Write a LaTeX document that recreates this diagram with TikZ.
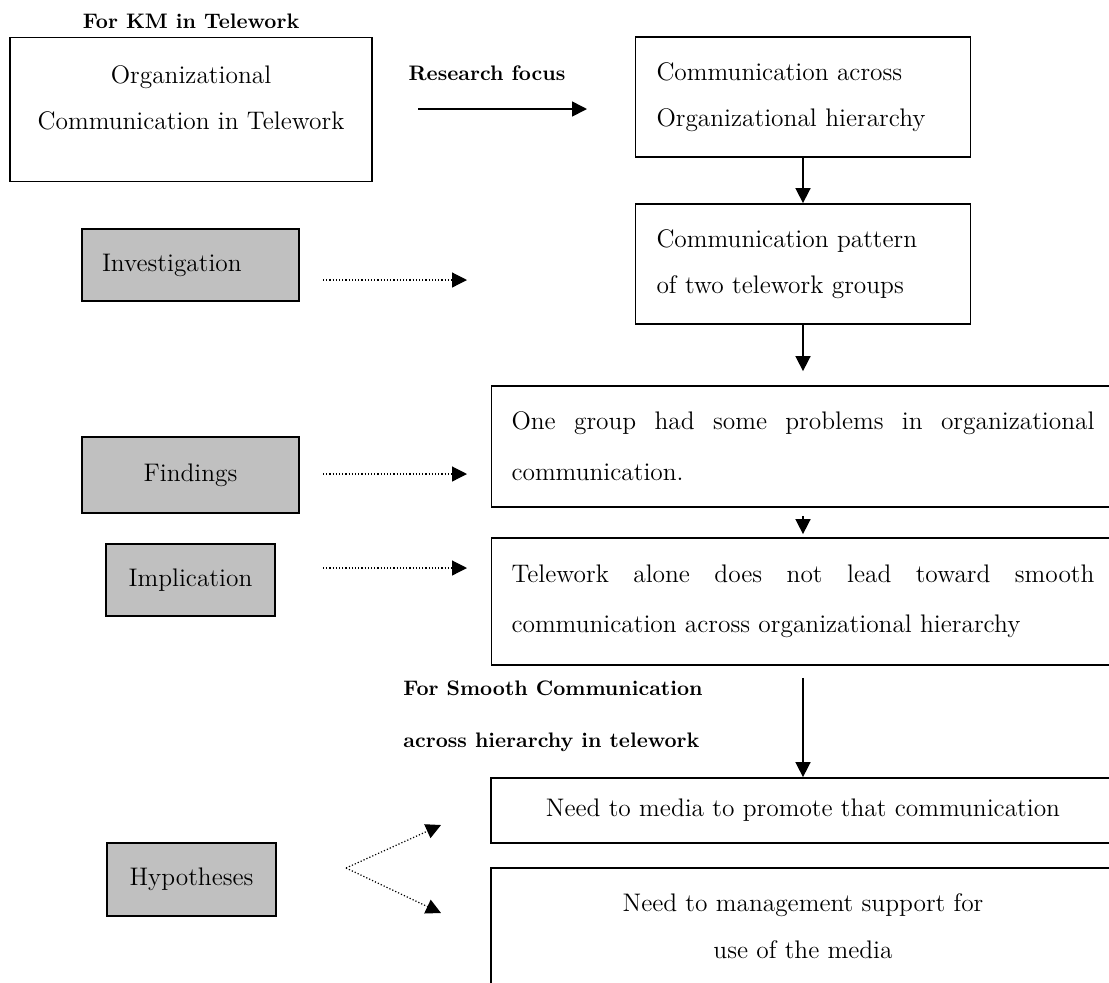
\documentclass[tikz,border=0pt]{standalone}
\usepackage{tikz}
\usetikzlibrary{arrows.meta, positioning}
\definecolor{boxgray}{RGB}{192,192,192}
\tikzset{
  wbox/.style={rectangle, draw, line width=0.9pt, fill=white, inner sep=0pt,
    font=\fontsize{12.7}{23}\selectfont},
  gbox/.style={rectangle, draw, line width=1pt, fill=boxgray, inner sep=0pt,
    font=\fontsize{12.7}{23}\selectfont},
  plain/.style={inner sep=0pt, align=center, font=\fontsize{12.7}{23}\selectfont},
  lbl/.style={inner sep=0pt, align=left, font=\fontsize{10.5}{26}\selectfont\bfseries},
  arrow/.style={-{Triangle[length=7.5pt, width=7.5pt]}, line width=0.8pt},
  dotarrow/.style={-{Triangle[length=7.5pt, width=7.5pt]}, line width=0.6pt,
    densely dotted},
}

\begin{document}
\begin{tikzpicture}[x=0.5pt, y=-0.5pt]
  \useasboundingbox (0,0) rectangle (1109,982);
  \clip (0,0) rectangle (1109,982);

  % top row
  \node[wbox, minimum width=181pt, minimum height=72pt] (org) at (191,109.5) {};
  \node[plain] (orgtxt) at (191,98) {Organizational\\Communication in Telework};
  \node[lbl, above=4pt of org] (km) {For KM in Telework};
  \node[lbl] (focus) at (487,73) {Research focus};

  \node[wbox, text width=146.5pt, align=left, minimum width=167.5pt,
    minimum height=60pt] (comm) at (803,97)
    {Communication across\\Organizational hierarchy};
  \node[wbox, text width=146.5pt, align=left, minimum width=167.5pt,
    minimum height=60pt] (patt) at (803,264)
    {Communication pattern\\of two telework groups};

  % wide boxes
  \node[wbox, text width=291.5pt, inner xsep=10pt, align=justify,
    minimum height=60.5pt, font=\fontsize{12.7}{25.5}\selectfont]
    (find) at (803,446.5)
    {One group had some problems in organizational\linebreak communication.};
  \node[wbox, text width=291.5pt, inner xsep=10pt, align=justify,
    minimum height=63.5pt, font=\fontsize{12.7}{25}\selectfont]
    (tele) at (803,601.5)
    {Telework alone does not lead toward smooth\linebreak communication across organizational hierarchy};
  \node[lbl, anchor=west] (smooth) at (403,716)
    {For Smooth Communication\\across hierarchy in telework};
  \node[wbox, minimum width=312pt, minimum height=32.5pt]
    (media) at (803,810.5) {Need to media to promote that communication};
  \node[wbox, align=center, minimum width=312pt, minimum height=58.5pt,
    font=\fontsize{12.7}{23.5}\selectfont]
    (mgmt) at (803,926.5) {Need to management support for\\use of the media};

  % gray boxes
  \node[gbox, text width=88.5pt, align=left, minimum width=108.5pt,
    minimum height=36pt] (inv) at (190.5,265) {Investigation};
  \node[gbox, minimum width=108.5pt, minimum height=38pt] (fnd) at (190.5,475) {Findings};
  \node[gbox, minimum width=84.5pt, minimum height=36pt] (impl) at (190.5,580) {Implication};
  \node[gbox, minimum width=84.5pt, minimum height=36.5pt] (hyp) at (191.5,879.5) {Hypotheses};

  % arrow ends
  \coordinate (rf-s) at (418,109);
  \coordinate (rf-e) at (587,109);
  \coordinate (inv-s) at (323,280);
  \coordinate (inv-e) at (467,280);
  \coordinate (fnd-s) at (323,474);
  \coordinate (fnd-e) at (467,474);
  \coordinate (impl-s) at (323,568);
  \coordinate (impl-e) at (467,568);
  \coordinate (apex) at (346,868);
  \coordinate (hyp-up) at (441,825);
  \coordinate (hyp-dn) at (441,913);

  \draw[arrow] (rf-s) -- (rf-e);
  \draw[arrow] (comm) -- (patt);
  \draw[arrow, shorten >=7pt] (patt) -- (find);
  \draw[arrow, shorten <=4pt, shorten >=1.5pt] (find) -- (tele);
  \draw[arrow, shorten <=6pt] (tele) -- (media);

  \draw[dotarrow] (inv-s) -- (inv-e);
  \draw[dotarrow] (fnd-s) -- (fnd-e);
  \draw[dotarrow] (impl-s) -- (impl-e);
  \draw[dotarrow] (apex) -- (hyp-up);
  \draw[dotarrow] (apex) -- (hyp-dn);
\end{tikzpicture}
\end{document}
